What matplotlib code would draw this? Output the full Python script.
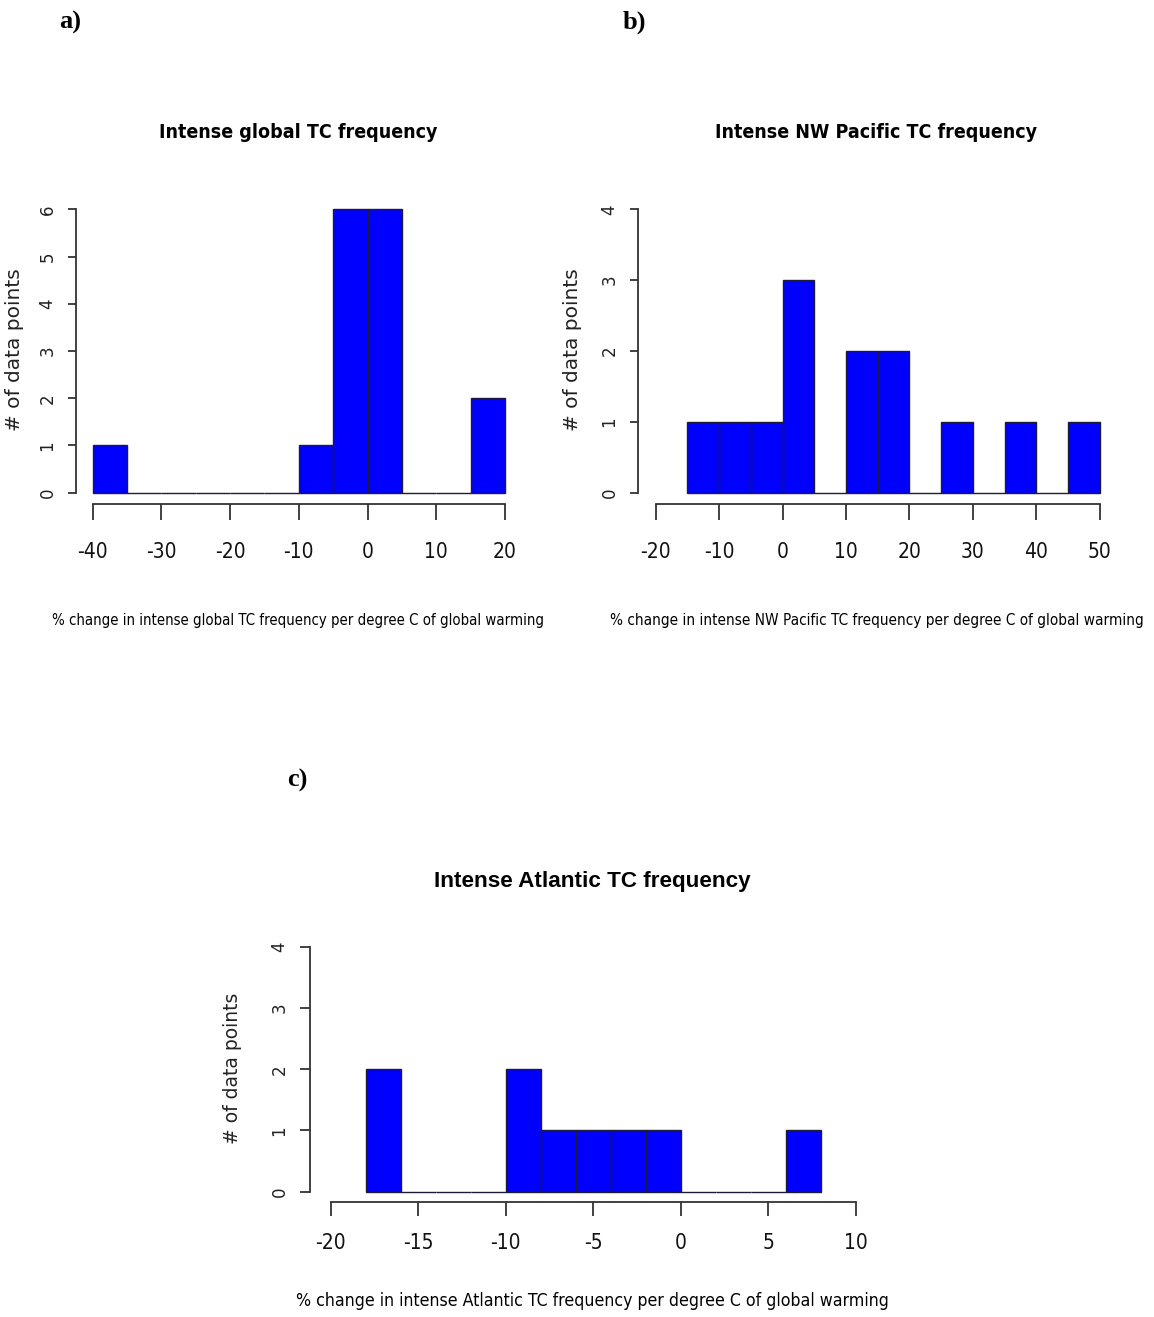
import numpy as np
import matplotlib as mpl
mpl.use("Agg")
import matplotlib.pyplot as plt
from matplotlib import font_manager
from matplotlib.font_manager import FontProperties

mpl.rcParams["axes.unicode_minus"] = False

# look for any narrow / condensed sans face to imitate the squeezed R text
narrow_reg, narrow_bold = None, None
for f in font_manager.fontManager.ttflist:
    cond = ("Narrow" in f.name or "Condensed" in f.name
            or f.stretch in ("condensed", "semi-condensed", "extra-condensed"))
    if not cond or "Serif" in f.name or "Mono" in f.name or f.style != "normal":
        continue
    bold = f.weight in ("bold", 700, 600, "semibold", "demibold")
    if bold and narrow_bold is None:
        narrow_bold = f.fname
    if not bold and f.weight in ("normal", "regular", 400, "book") and narrow_reg is None:
        narrow_reg = f.fname

NREG = FontProperties(fname=narrow_reg) if narrow_reg else FontProperties(family="Liberation Sans")
NBOLD = FontProperties(fname=narrow_bold) if narrow_bold else FontProperties(family="Liberation Sans", weight="bold")

# ---- data: bin edges and counts ----
a_edges = [-40, -35, -30, -25, -20, -15, -10, -5, 0, 5, 10, 15, 20]
a_counts = [1, 0, 0, 0, 0, 0, 1, 6, 6, 0, 0, 2]
a_xticks = [-40, -30, -20, -10, 0, 10, 20]
a_yticks = [0, 1, 2, 3, 4, 5, 6]

b_edges = [-15, -10, -5, 0, 5, 10, 15, 20, 25, 30, 35, 40, 45, 50]
b_counts = [1, 1, 1, 3, 0, 2, 2, 0, 1, 0, 1, 0, 1]
b_xticks = [-20, -10, 0, 10, 20, 30, 40, 50]
b_yticks = [0, 1, 2, 3, 4]

c_edges = [-18, -16, -14, -12, -10, -8, -6, -4, -2, 0, 2, 4, 6, 8]
c_counts = [2, 0, 0, 0, 2, 1, 1, 1, 1, 0, 0, 0, 1]
c_xticks = [-20, -15, -10, -5, 0, 5, 10]
c_yticks = [0, 1, 2, 3, 4]

titles = ["Intense global TC frequency",
          "Intense NW Pacific TC frequency",
          "Intense Atlantic TC frequency"]
xlabels = ["% change in intense global TC frequency per degree C of global warming",
           "% change in intense NW Pacific TC frequency per degree C of global warming",
           "% change in intense Atlantic TC frequency per degree C of global warming"]
ylabel = "# of data points"

W, H = 1154, 1317
fig = plt.figure(figsize=(W / 100, H / 100), dpi=100)
fig.patch.set_facecolor("white")

AXC = "#333333"


def fx(px):
    return px / W


def fy(py):
    return 1 - py / H


def fp(base, size):
    p = base.copy()
    p.set_size(size)
    return p


def make_axes(xaxis_py, yaxis_px, xlo, xlo_px, xhi, xhi_px, y0_py, ytop, ytop_py):
    # place axes so that data values land on the pixel positions of the original
    sx = (xhi_px - xlo_px) / (xhi - xlo)
    sy = (y0_py - ytop_py) / ytop
    left, right = yaxis_px, xhi_px + (xlo_px - yaxis_px)
    bottom, top = xaxis_py, ytop_py - 6
    ax = fig.add_axes([fx(left), fy(bottom), (right - left) / W, (bottom - top) / H])
    ax.set_xlim(xlo - (xlo_px - left) / sx, xhi + (right - xhi_px) / sx)
    ax.set_ylim(-(bottom - y0_py) / sy, ytop + (ytop_py - top) / sy)
    for s in ["top", "right"]:
        ax.spines[s].set_visible(False)
    ax.spines["left"].set_bounds(0, ytop)
    ax.spines["bottom"].set_bounds(xlo, xhi)
    for s in ["left", "bottom"]:
        ax.spines[s].set_color(AXC)
        ax.spines[s].set_linewidth(1.3)
    ax.patch.set_alpha(0)
    return ax


def draw_hist(ax, edges, counts, xticks, yticks, xlen, ylen, xpad, ypad, xsize):
    ax.bar(edges[:-1], counts, width=np.diff(edges), align="edge",
           color="#0000ff", edgecolor="#1c1c3a", linewidth=1.0, zorder=2)
    ax.set_xticks(xticks)
    ax.set_yticks(yticks)
    ax.tick_params(axis="x", length=xlen, width=1.3, color=AXC, pad=xpad)
    ax.tick_params(axis="y", length=ylen, width=1.3, color=AXC, pad=ypad,
                   labelrotation=90)
    for lbl in ax.get_xticklabels():
        lbl.set_fontproperties(fp(NREG, xsize))
        lbl.set_color("#111111")
    for lbl in ax.get_yticklabels():
        lbl.set_fontproperties(FontProperties(family="DejaVu Sans", size=12))
        lbl.set_va("center")
        lbl.set_color("#222222")


ax_a = make_axes(504, 76, -40, 92.7, 20, 505, 492.7, 6, 209.3)
draw_hist(ax_a, a_edges, a_counts, a_xticks, a_yticks, 11.5, 5.5, 16, 8.5, 15)

ax_b = make_axes(504, 638, -20, 655.7, 50, 1099.7, 492.7, 4, 209.3)
draw_hist(ax_b, b_edges, b_counts, b_xticks, b_yticks, 11.5, 5.5, 16, 8.5, 15)

ax_c = make_axes(1202, 310, -20, 330.7, 10, 856, 1191.7, 4, 946.7)
draw_hist(ax_c, c_edges, c_counts, c_xticks, c_yticks, 10, 7.5, 12, 8, 15)

# titles
fig.text(fx(298), fy(133), titles[0], ha="center", va="center",
         fontproperties=fp(NBOLD, 14))
fig.text(fx(876), fy(133), titles[1], ha="center", va="center",
         fontproperties=fp(NBOLD, 14))
fig.text(fx(592), fy(881), titles[2], ha="center", va="center",
         fontproperties=FontProperties(family="Liberation Sans", weight="bold", size=16.2))

# x labels
fig.text(fx(298), fy(620), xlabels[0], ha="center", va="center",
         fontproperties=fp(NREG, 10.7))
fig.text(fx(877), fy(620), xlabels[1], ha="center", va="center",
         fontproperties=fp(NREG, 11.0))
fig.text(fx(592), fy(1301), xlabels[2], ha="center", va="center",
         fontproperties=fp(NREG, 12.7))

# y labels
for x, y, s in [(15, 350, 14.5), (573, 350, 14.5), (233, 1068, 13.5)]:
    fig.text(fx(x), fy(y), ylabel, ha="center", va="center", rotation=90,
             fontfamily="DejaVu Sans", fontsize=s, color="#222222")

# panel letters
for x, y, s in [(70, 22, "a)"), (634, 22, "b)"), (297, 780, "c)")]:
    fig.text(fx(x), fy(y), s, ha="center", va="center",
             fontfamily="Liberation Serif", fontweight="bold", fontsize=19)

fig.savefig("out.png", dpi=100)
